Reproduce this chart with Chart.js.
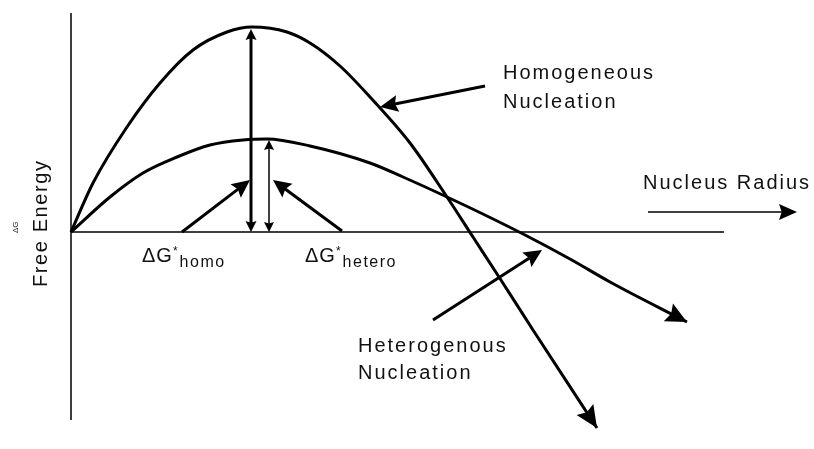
<!DOCTYPE html>
<html>
<head>
<meta charset="utf-8">
<script src="https://cdn.jsdelivr.net/npm/chart.js@4.4.1/dist/chart.umd.min.js"></script>
<style>
  html, body { margin: 0; padding: 0; background: #fff; }
  canvas { display: block; }
</style>
</head>
<body>
<canvas id="myChart" width="814" height="449"></canvas>
<script>
// Free energy vs nucleus radius (arbitrary units)
const homoRadius = [0, 2.2, 5.6, 8.9, 12.2, 15.6, 18.1, 21.6, 23.9, 26.9, 29.9, 33.9, 37.6, 40.2, 42.8, 46.2, 52.6];
const homoEnergy = [0, 4.9, 10.5, 14.9, 18.2, 20.0, 20.5, 20.0, 18.9, 16.6, 13.5, 8.9, 3.5, -0.5, -4.5, -9.8, -19.6];

const heteroRadius = [0, 3.9, 7.2, 10.6, 13.9, 17.2, 19.6, 23.9, 29.9, 33.2, 37.6, 41.6, 45.6, 49.9, 53.9, 61.6];
const heteroEnergy = [0, 3.5, 5.9, 7.5, 8.7, 9.2, 9.3, 8.6, 6.9, 5.5, 3.5, 1.6, -0.4, -2.7, -5.0, -9.0];

// arrows as [r1, g1, r2, g2], the tip is the second point
const ptrHomoLabel = [41.4, 14.6, 30.9, 12.5];
const ptrHeteroLabel = [36.2, -8.8, 47.1, -1.8];
const ptrBarrierHomo = [11.1, 0, 17.9, 5.2];
const ptrBarrierHetero = [27.1, 0.1, 20.2, 5.2];
const radiusArrow = [57.7, 2.0, 72.6, 2.0];
const barrierHomo = [18.0, 0, 18.0, 20.3];
const barrierHetero = [19.8, 0, 19.8, 9.2];

// axis extents
const rAxisEnd = 65.3;
const gAxisTop = 21.9;
const gAxisBottom = -18.8;

const toPoints = (xs, ys) => xs.map((x, i) => ({ x: x, y: ys[i] }));

const sketchPlugin = {
  id: 'sketch',
  beforeDatasetsDraw(chart) {
    const ctx = chart.ctx;
    const sx = v => chart.scales.x.getPixelForValue(v);
    const sy = v => chart.scales.y.getPixelForValue(v);
    ctx.save();
    ctx.strokeStyle = '#000';
    ctx.lineWidth = 1.5;
    ctx.beginPath();
    ctx.moveTo(sx(0), sy(gAxisTop));
    ctx.lineTo(sx(0), sy(gAxisBottom));
    ctx.moveTo(sx(0), sy(0));
    ctx.lineTo(sx(rAxisEnd), sy(0));
    ctx.stroke();
    ctx.restore();
  },
  afterDatasetsDraw(chart) {
    const ctx = chart.ctx;
    const sx = v => chart.scales.x.getPixelForValue(v);
    const sy = v => chart.scales.y.getPixelForValue(v);

    function head(x1, y1, x2, y2, len, half) {
      const a = Math.atan2(y2 - y1, x2 - x1);
      const c = Math.cos(a), s = Math.sin(a);
      ctx.beginPath();
      ctx.moveTo(x2, y2);
      ctx.lineTo(x2 - len * c + half * s, y2 - len * s - half * c);
      ctx.lineTo(x2 - len * 0.85 * c, y2 - len * 0.85 * s);
      ctx.lineTo(x2 - len * c - half * s, y2 - len * s + half * c);
      ctx.closePath();
      ctx.fill();
    }

    function arrow(seg, lw, len, half, both) {
      const x1 = sx(seg[0]), y1 = sy(seg[1]), x2 = sx(seg[2]), y2 = sy(seg[3]);
      const a = Math.atan2(y2 - y1, x2 - x1);
      const back = len * 0.7;
      ctx.lineWidth = lw;
      ctx.beginPath();
      ctx.moveTo(both ? x1 + back * Math.cos(a) : x1, both ? y1 + back * Math.sin(a) : y1);
      ctx.lineTo(x2 - back * Math.cos(a), y2 - back * Math.sin(a));
      ctx.stroke();
      head(x1, y1, x2, y2, len, half);
      if (both) head(x2, y2, x1, y1, len, half);
    }

    ctx.save();
    ctx.strokeStyle = '#000';
    ctx.fillStyle = '#000';

    // heads at the ends of the two curves
    let n = homoRadius.length - 1;
    head(sx(homoRadius[n - 1]), sy(homoEnergy[n - 1]), sx(homoRadius[n]), sy(homoEnergy[n]), 22, 10);
    n = heteroRadius.length - 1;
    head(sx(heteroRadius[n - 1]), sy(heteroEnergy[n - 1]), sx(heteroRadius[n]), sy(heteroEnergy[n]), 21, 10);

    arrow(ptrHomoLabel, 3, 18, 8.5, false);
    arrow(ptrHeteroLabel, 3, 18, 8.5, false);
    arrow(ptrBarrierHomo, 3, 18, 8.5, false);
    arrow(ptrBarrierHetero, 3, 18, 8.5, false);
    arrow(radiusArrow, 1.5, 18, 8, false);
    arrow(barrierHomo, 3, 11, 5.5, true);
    arrow(barrierHetero, 1.5, 10, 5, true);

    // texts
    ctx.fillStyle = '#111';
    ctx.textBaseline = 'alphabetic';
    ctx.textAlign = 'left';
    ctx.letterSpacing = '2px';
    ctx.font = '20px "Liberation Sans", Arial, sans-serif';
    ctx.fillText('Homogeneous', sx(43.2), sy(15.3));
    ctx.fillText('Nucleation', sx(43.2), sy(12.4));
    ctx.fillText('Nucleus Radius', sx(57.2), sy(4.3));
    ctx.fillText('Heterogenous', sx(28.7), sy(-12.0));
    ctx.fillText('Nucleation', sx(28.7), sy(-14.7));

    function barrierLabel(r, sub) {
      let x = sx(r);
      const y = sy(-3.0);
      ctx.font = '20px "Liberation Sans", Arial, sans-serif';
      ctx.letterSpacing = '1px';
      ctx.fillText('\u0394G', x, y);
      x += ctx.measureText('\u0394G').width;
      ctx.font = '12px "Liberation Sans", Arial, sans-serif';
      ctx.fillText('*', x, y - 7);
      x += ctx.measureText('*').width + 1;
      ctx.font = '16px "Liberation Sans", Arial, sans-serif';
      ctx.letterSpacing = '1.5px';
      ctx.fillText(sub, x, y + 5);
    }
    barrierLabel(7.1, 'homo');
    barrierLabel(23.4, 'hetero');

    // y axis title
    ctx.save();
    ctx.translate(47, 287);
    ctx.rotate(-Math.PI / 2);
    ctx.font = '20px "Liberation Sans", Arial, sans-serif';
    ctx.letterSpacing = '1.6px';
    ctx.fillText('Free Energy', 0, 0);
    ctx.restore();
    ctx.save();
    ctx.translate(18, 233);
    ctx.rotate(-Math.PI / 2);
    ctx.font = '8px "Liberation Sans", Arial, sans-serif';
    ctx.letterSpacing = '0px';
    ctx.fillText('\u0394G', 0, 0);
    ctx.restore();

    ctx.restore();
  }
};

const ctx = document.getElementById('myChart');
const myChart = new Chart(ctx, {
  type: 'scatter',
  data: {
    datasets: [
      {
        label: 'Homogeneous Nucleation',
        data: toPoints(homoRadius, homoEnergy),
        showLine: true,
        borderColor: '#000',
        borderWidth: 3,
        pointRadius: 0,
        cubicInterpolationMode: 'monotone'
      },
      {
        label: 'Heterogenous Nucleation',
        data: toPoints(heteroRadius, heteroEnergy),
        showLine: true,
        borderColor: '#000',
        borderWidth: 3,
        pointRadius: 0,
        cubicInterpolationMode: 'monotone'
      }
    ]
  },
  options: {
    responsive: false,
    animation: false,
    devicePixelRatio: 1,
    layout: { padding: 0 },
    plugins: {
      legend: { display: false },
      tooltip: { enabled: false }
    },
    scales: {
      x: { type: 'linear', min: -7.1, max: 74.3, display: false },
      y: { type: 'linear', min: -21.7, max: 23.2, display: false }
    }
  },
  plugins: [sketchPlugin]
});
</script>
</body>
</html>
